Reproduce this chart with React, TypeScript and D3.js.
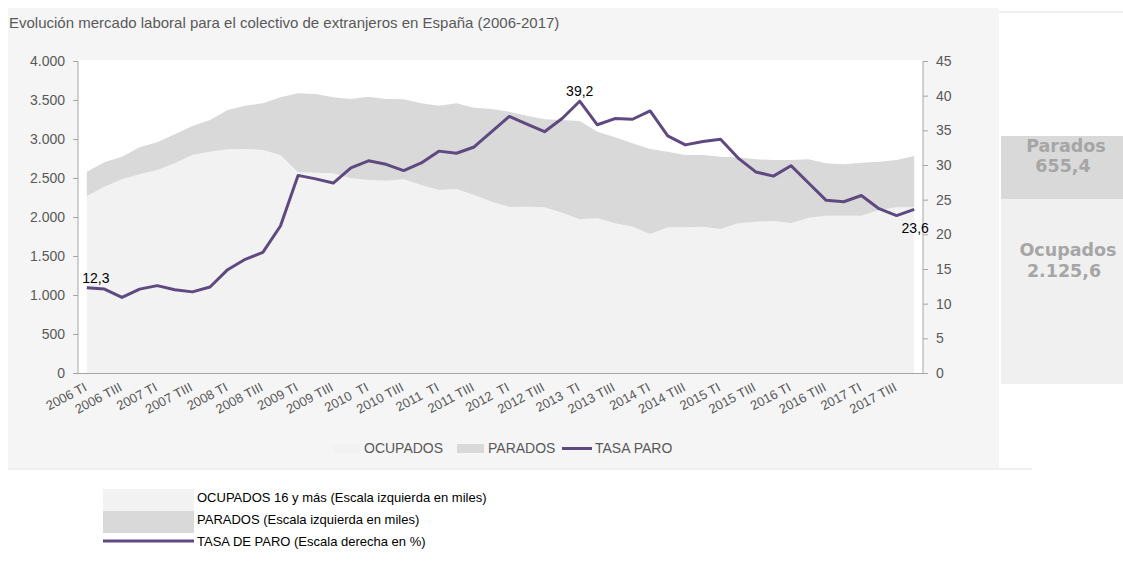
import React from "react";
import * as d3 from "d3";

const years = ["2006", "2007", "2008", "2009", "2010", "2011", "2012", "2013", "2014", "2015", "2016", "2017"];
const quarterNames = ["TI", "TII", "TIII", "TIV"];
const categories: string[] = years.flatMap((y) => quarterNames.map((q) => `${y} ${q}`));

const tickLabels = [
  "2006 TI", "2006 TIII", "2007 TI", "2007 TIII", "2008 TI", "2008 TIII",
  "2009 TI", "2009 TIII", "2010  TI", "2010 TIII", "2011  TI", "2011 TIII",
  "2012  TI", "2012 TIII", "2013  TI", "2013 TIII", "2014 TI", "2014 TIII",
  "2015 TI", "2015 TIII", "2016 TI", "2016 TIII", "2017 TI", "2017 TIII",
];

// Ocupados 16 y más (miles)
const ocupados = [
  2269, 2389, 2483, 2547, 2603, 2688, 2795, 2838, 2868, 2872, 2859, 2795,
  2573, 2568, 2560, 2496, 2474, 2466, 2483, 2410, 2346, 2359, 2282, 2196,
  2128, 2132, 2124, 2055, 1970, 1983, 1919, 1876, 1782, 1868, 1868, 1876,
  1846, 1919, 1940, 1949, 1919, 1991, 2017, 2017, 2017, 2090, 2124, 2125.6,
];

// Parados (miles)
const parados = [
  312, 312, 290, 346, 355, 372, 372, 406, 504, 555, 598, 739,
  1012, 1009, 974, 1017, 1069, 1047, 1026, 1047, 1081, 1098, 1120, 1189,
  1222, 1167, 1128, 1189, 1261, 1111, 1102, 1068, 1090, 970, 927, 919,
  927, 846, 799, 782, 812, 748, 671, 658, 680, 619, 607, 655.4,
];

// Tasa de paro (%)
const tasaParo = [
  12.3, 12.1, 10.9, 12.1, 12.6, 12.0, 11.7, 12.4, 14.9, 16.4, 17.4, 21.2,
  28.5, 28.0, 27.4, 29.6, 30.6, 30.1, 29.2, 30.3, 32.0, 31.7, 32.6, 34.8,
  37.0, 35.9, 34.8, 36.7, 39.2, 35.8, 36.7, 36.6, 37.8, 34.2, 32.9, 33.4,
  33.7, 31.0, 29.0, 28.4, 29.9, 27.4, 24.9, 24.7, 25.6, 23.7, 22.7, 23.6,
];

const leftTicks = [0, 500, 1000, 1500, 2000, 2500, 3000, 3500, 4000];
const rightTicks = [0, 5, 10, 15, 20, 25, 30, 35, 40, 45];
const labeledPoints = [0, 28, 47];

const fmtThousands = (v: number) => d3.format(",")(v).replace(/,/g, ".");
const fmtDec = (v: number) => v.toFixed(1).replace(".", ",");
const fmtBox = (v: number) => {
  const s = v.toFixed(1);
  const [i, d] = s.split(".");
  return `${fmtThousands(+i)},${d}`;
};

const FONT = "Liberation Sans, Arial, sans-serif";
const GREY = "#595959";
const AXIS = "#a6a6a6";
const OCC = "#f2f2f2";
const PAR = "#d9d9d9";
const LINE = "#5e4a80";

export default function App() {
  const plotL = 78, plotR = 923, plotT = 61, plotB = 373;
  const x = d3.scaleBand<string>().domain(categories).range([plotL, plotR]);
  const cx = (i: number) => (x(categories[i]) as number) + x.bandwidth() / 2;
  const yL = d3.scaleLinear().domain([0, 4000]).range([plotB, plotT]);
  const yR = d3.scaleLinear().domain([0, 45]).range([plotB, plotT]);

  const idx = d3.range(categories.length);
  const areaOcc = d3.area<number>().x((i) => cx(i)).y0(yL(0)).y1((i) => yL(ocupados[i]));
  const areaPar = d3
    .area<number>()
    .x((i) => cx(i))
    .y0((i) => yL(ocupados[i]))
    .y1((i) => yL(ocupados[i] + parados[i]));
  const line = d3.line<number>().x((i) => cx(i)).y((i) => yR(tasaParo[i]));

  const last = categories.length - 1;
  const labelOffsets: Record<number, [number, number]> = {
    0: [9, -5],
    28: [0, -5],
    47: [1, 24],
  };

  return (
    <svg
      width={1123}
      height={564}
      style={{ position: "absolute", left: 0, top: 0, fontFamily: FONT }}
    >
      <rect x={0} y={0} width={1123} height={564} fill="#ffffff" />
      {/* chart panel */}
      <rect x={8} y={8} width={991} height={460} fill="#f5f5f5" />
      <line x1={999} x2={1123} y1={12} y2={12} stroke="#f0f0f0" strokeWidth={2} />
      <line x1={8} x2={1032} y1={469} y2={469} stroke="#f0f0f0" strokeWidth={2} />
      <text x={9} y={28} fontSize={15} fill={GREY}>
        Evolución mercado laboral para el colectivo de extranjeros en España (2006-2017)
      </text>

      {/* plot area */}
      <rect x={plotL} y={plotT - 1} width={plotR - plotL} height={plotB - plotT + 1} fill="#ffffff" />
      <path d={areaOcc(idx) || ""} fill={OCC} />
      <path d={areaPar(idx) || ""} fill={PAR} />
      <path d={line(idx) || ""} fill="none" stroke={LINE} strokeWidth={3} strokeLinejoin="round" />

      {/* axes */}
      <line x1={plotL} x2={plotL} y1={plotT} y2={plotB} stroke={AXIS} />
      <line x1={plotR} x2={plotR} y1={plotT} y2={plotB} stroke={AXIS} />
      <line x1={plotL - 5} x2={plotR + 5} y1={plotB + 0.5} y2={plotB + 0.5} stroke={AXIS} />
      {leftTicks.map((t) => (
        <g key={"l" + t}>
          <line x1={plotL - 5} x2={plotL} y1={yL(t) + 0.5} y2={yL(t) + 0.5} stroke={AXIS} />
          <text x={65} y={yL(t) + 5} fontSize={14} fill={GREY} textAnchor="end">
            {fmtThousands(t)}
          </text>
        </g>
      ))}
      {rightTicks.map((t) => (
        <g key={"r" + t}>
          <line x1={plotR} x2={plotR + 5} y1={yR(t) + 0.5} y2={yR(t) + 0.5} stroke={AXIS} />
          <text x={936} y={yR(t) + 5} fontSize={14} fill={GREY} textAnchor="start">
            {t}
          </text>
        </g>
      ))}
      {tickLabels.map((lab, k) => {
        const i = k * 2;
        return (
          <text
            key={"x" + k}
            transform={`translate(${cx(i) + 1},${plotB + 17}) rotate(-28)`}
            fontSize={13}
            fill={GREY}
            textAnchor="end"
            style={{ whiteSpace: "pre" }}
          >
            {lab}
          </text>
        );
      })}

      {/* data labels */}
      {labeledPoints.map((i) => (
        <text
          key={"d" + i}
          x={cx(i) + labelOffsets[i][0]}
          y={yR(tasaParo[i]) + labelOffsets[i][1]}
          fontSize={14}
          fill="#000000"
          textAnchor="middle"
        >
          {fmtDec(tasaParo[i])}
        </text>
      ))}

      {/* inner legend */}
      <rect x={333} y={444} width={27} height={9} fill={OCC} />
      <text x={364} y={453} fontSize={14} fill={GREY}>OCUPADOS</text>
      <rect x={457} y={444} width={27} height={9} fill={PAR} />
      <text x={488} y={453} fontSize={14} fill={GREY}>PARADOS</text>
      <line x1={562} x2={592} y1={448.5} y2={448.5} stroke={LINE} strokeWidth={3} />
      <text x={595} y={453} fontSize={14} fill={GREY}>TASA PARO</text>

      {/* right-side boxes */}
      <rect x={1001} y={136} width={122} height={63} fill={PAR} />
      <rect x={1001} y={199} width={122} height={185} fill="#f0f0f0" />
      <g fontFamily="DejaVu Sans, sans-serif" fontWeight="bold" fontSize={17.5} fill="#a6a6a6" textAnchor="middle">
        <text x={1066} y={152}>Parados</text>
        <text x={1063} y={172}>{fmtBox(parados[last])}</text>
        <text x={1068} y={256}>Ocupados</text>
        <text x={1064} y={277}>{fmtBox(ocupados[last])}</text>
      </g>

      {/* bottom legend */}
      <rect x={103} y={489} width={91} height={22} fill={OCC} />
      <rect x={103} y={511} width={91} height={22} fill={PAR} />
      <line x1={103} x2={194} y1={541} y2={541} stroke={LINE} strokeWidth={3} />
      <g fontSize={13} fill="#000000">
        <text x={197} y={502}>OCUPADOS 16 y más (Escala izquierda en miles)</text>
        <text x={197} y={524}>PARADOS (Escala izquierda en miles)</text>
        <text x={197} y={546}>TASA DE PARO (Escala derecha en %)</text>
      </g>
    </svg>
  );
}
